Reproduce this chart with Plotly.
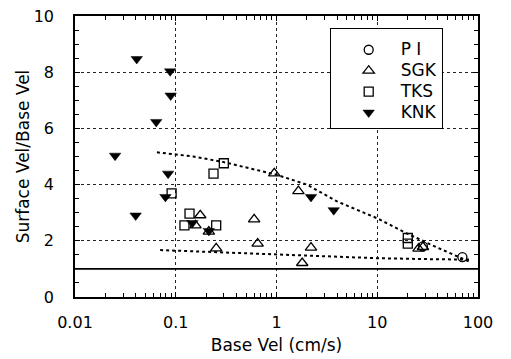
import plotly.graph_objects as go

# ---- data ----
PI_x = [28.4, 70.0]
PI_y = [1.80, 1.42]

SGK_x = [0.175, 0.157, 0.213, 0.252, 0.60, 0.65, 0.95, 1.65, 2.2, 1.8, 25.7, 28.4]
SGK_y = [2.91, 2.55, 2.33, 1.73, 2.76, 1.90, 4.40, 3.77, 1.76, 1.21, 1.72, 1.78]

TKS_x = [0.30, 0.237, 0.091, 0.137, 0.122, 0.252, 20.1, 20.1]
TKS_y = [4.76, 4.39, 3.69, 2.97, 2.55, 2.55, 2.10, 1.90]

KNK_x = [0.041, 0.088, 0.089, 0.064, 0.025, 0.084, 0.079, 0.040, 0.146, 0.213, 2.2, 3.7]
KNK_y = [8.47, 8.03, 7.17, 6.23, 5.03, 4.39, 3.56, 2.90, 2.63, 2.35, 3.56, 3.09]

UPPER_x = [0.065, 0.15, 0.3, 0.6, 1.0, 2.0, 4.0, 10, 20, 40, 83]
UPPER_y = [5.15, 5.0, 4.8, 4.55, 4.35, 4.0, 3.4, 2.8, 2.25, 1.75, 1.25]

LOWER_x = [0.07, 0.3, 1.0, 3.0, 10, 30, 83]
LOWER_y = [1.67, 1.58, 1.51, 1.44, 1.38, 1.35, 1.33]

REF_RATIO = 1.0

SERIES_NAMES = ["P I", "SGK", "TKS", "KNK"]

X_TICKS = [0.01, 0.1, 1, 10, 100]
X_TICKTEXT = ["0.01", "0.1", "1", "10", "100"]
Y_TICKS = [0, 2, 4, 6, 8, 10]

FONT = "DejaVu Sans"


def legend_label(s):
    return '<span style="font-size:17px">' + s + "</span>"


fig = go.Figure()

fig.add_trace(go.Scatter(x=UPPER_x, y=UPPER_y, mode="lines", showlegend=False,
                         line=dict(color="black", width=2, dash="dot"), hoverinfo="skip"))
fig.add_trace(go.Scatter(x=LOWER_x, y=LOWER_y, mode="lines", showlegend=False,
                         line=dict(color="black", width=2, dash="dot"), hoverinfo="skip"))

mk_line = dict(color="black", width=1.3)
fig.add_trace(go.Scatter(x=PI_x, y=PI_y, mode="markers", name=legend_label(SERIES_NAMES[0]),
                         marker=dict(symbol="circle-open", size=9, color="black", line=mk_line)))
fig.add_trace(go.Scatter(x=SGK_x, y=SGK_y, mode="markers", name=legend_label(SERIES_NAMES[1]),
                         marker=dict(symbol="triangle-up-open", size=10, color="black", line=mk_line)))
fig.add_trace(go.Scatter(x=TKS_x, y=TKS_y, mode="markers", name=legend_label(SERIES_NAMES[2]),
                         marker=dict(symbol="square-open", size=9, color="black", line=mk_line)))
fig.add_trace(go.Scatter(x=KNK_x, y=KNK_y, mode="markers", name=legend_label(SERIES_NAMES[3]),
                         marker=dict(symbol="triangle-down", size=10, color="black",
                                     line=dict(color="black", width=0.5))))

fig.add_shape(type="line", xref="paper", x0=0, x1=1, yref="y", y0=REF_RATIO, y1=REF_RATIO,
              line=dict(color="black", width=1.6))

axis_common = dict(
    showline=True, linecolor="black", linewidth=1.5, mirror="ticks",
    ticks="inside", ticklen=5, tickcolor="black", tickwidth=1,
    showgrid=True, gridcolor="#222", gridwidth=1, griddash="dot",
    zeroline=False, tickfont=dict(family=FONT, size=16, color="black"),
    automargin=False,
)

fig.update_xaxes(
    type="log", range=[-2, 2], tickvals=X_TICKS, ticktext=X_TICKTEXT,
    minor=dict(ticks="inside", ticklen=4, tickcolor="black", dtick="D1", showgrid=False),
    title=dict(text="Base Vel (cm/s)", font=dict(family=FONT, size=17, color="black"), standoff=8),
    ticklabelstandoff=10,
    **axis_common,
)
fig.update_yaxes(
    range=[0, 10], tickvals=Y_TICKS,
    minor=dict(ticks="inside", ticklen=4, tickcolor="black", dtick=0.5, tick0=0, showgrid=False),
    title=dict(text="Surface Vel/Base Vel", font=dict(family=FONT, size=17, color="black"), standoff=0),
    ticklabelstandoff=16,
    **axis_common,
)

fig.update_layout(
    width=511, height=359,
    margin=dict(l=75, r=33, t=16, b=62),
    plot_bgcolor="white", paper_bgcolor="white",
    font=dict(family=FONT, color="black"),
    legend=dict(x=0.632, y=0.957, xanchor="left", yanchor="top",
                bordercolor="black", borderwidth=1, bgcolor="white",
                font=dict(family=FONT, size=13.8, color="black"),
                title=dict(text="&nbsp;", font=dict(family=FONT, size=4)),
                itemwidth=54, indentation=6),
)

fig.write_html("out.html")
